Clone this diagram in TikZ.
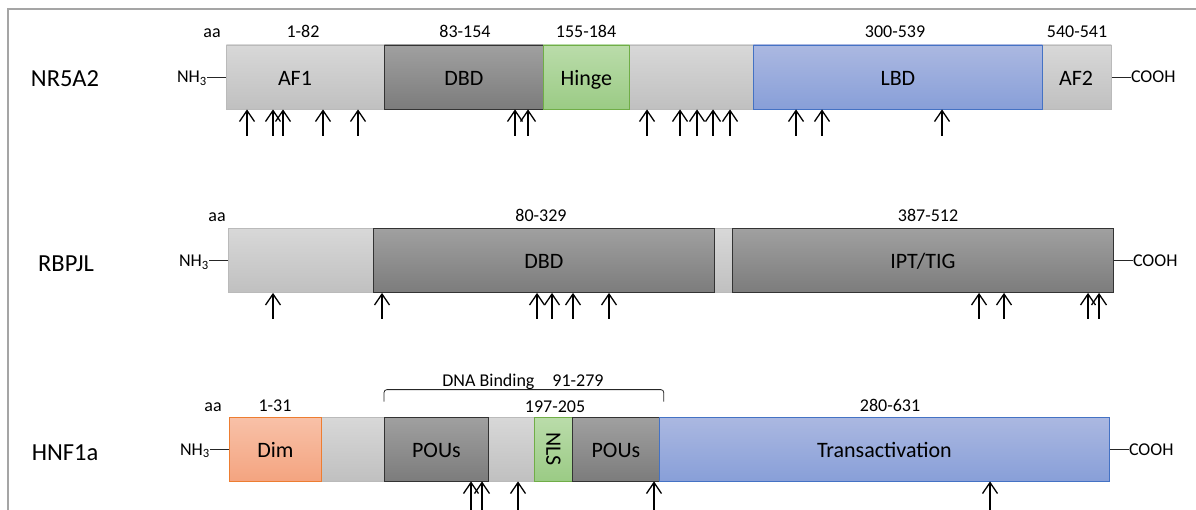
\documentclass[tikz,border=0pt]{standalone}
\usepackage{fontspec}
\setmainfont{Carlito}
\usepackage{graphicx}
\usetikzlibrary{positioning,arrows.meta}
\definecolor{lgray}{RGB}{216,216,216}
\definecolor{lgraybot}{RGB}{192,192,192}
\definecolor{dgray}{RGB}{160,160,160}
\definecolor{dgraybot}{RGB}{124,124,124}
\definecolor{hinge}{RGB}{186,220,170}
\definecolor{hingebot}{RGB}{155,203,133}
\definecolor{lbd}{RGB}{171,184,225}
\definecolor{lbdbot}{RGB}{136,159,216}
\definecolor{dim}{RGB}{248,193,168}
\definecolor{dimbot}{RGB}{244,164,128}
\definecolor{lblue}{RGB}{68,114,196}
\definecolor{lgreen}{RGB}{112,173,71}
\definecolor{lorange}{RGB}{237,125,49}
\definecolor{framegray}{RGB}{165,165,165}

\begin{document}
\begin{tikzpicture}[x=1pt, y=-1pt,
        domtext/.style={inner sep=0pt, text height=17pt, text depth=0pt, font=\fontsize{22}{26}\selectfont},
        dom/.style={domtext, draw, anchor=west, minimum height=64pt, line width=0.8pt},
        bgbar/.style={dom, draw=black!27, top color=lgray, bottom color=lgraybot},
        darkdom/.style={dom, draw=black!80, top color=dgray, bottom color=dgraybot},
        greendom/.style={dom, draw=lgreen, top color=hinge, bottom color=hingebot},
        bluedom/.style={dom, draw=lblue, top color=lbd, bottom color=lbdbot},
        orangedom/.style={dom, draw=lorange, top color=dim, bottom color=dimbot},
        gene/.style={anchor=base, font=\fontsize{24.5}{28}\selectfont},
        rangelab/.style={anchor=base, inner sep=0pt, font=\fontsize{18}{20}\selectfont},
        term/.style={inner sep=0pt, text height=12pt, text depth=0pt, font=\fontsize{18}{20}\selectfont},
        link/.style={draw=black!85, line width=0.8pt},
        site/.style={-{Straight Barb[length=11pt,width=15pt]}, line width=1.3pt}
    ]

        \useasboundingbox (0,0) rectangle (1196,510);
        \draw[framegray, line width=1.2pt] (8,510) -- (8,9) -- (1196,9);

        % NR5A2
        \node[gene] (nr5a2) at (65,87) {NR5A2};
        \node[bgbar, minimum width=885pt] (bar1) at (226,77) {};
        \node[darkdom, minimum width=159pt] (dbd1) at (384,77) {DBD};
        \node[greendom, minimum width=86pt] (hinge) at (543,77) {Hinge};
        \node[bluedom, minimum width=289pt] (lbd) at (753,77) {LBD};
        \node[domtext] (af1) at (295,77) {AF1};
        \node[domtext] (af2) at (1076,77) {AF2};
        \node[term, left=19pt of bar1] (nh1) {NH\textsubscript{3}};
        \node[term, right=19pt of bar1] (cooh1) {COOH};
        \path[link] (nh1) -- (bar1);
        \path[link] (bar1) -- (cooh1);

        \node[rangelab] (aa1) at (212,38) {aa};
        \node[rangelab] (r1a) at (303,38) {1-82};
        \node[rangelab] (r1b) at (465,38) {83-154};
        \node[rangelab] (r1c) at (586,38) {155-184};
        \node[rangelab] (r1d) at (895,38) {300-539};
        \node[rangelab] (r1e) at (1077,38) {540-541};

        \foreach \x in {247,273,283,323,358,515,528,647,680,697,713,730,796,822,942}
            \draw[site] (\x,136) -- (\x,0 |- bar1.south);

        % RBPJL
        \node[gene] (rbpjl) at (66,272) {RBPJL};
        \node[bgbar, minimum width=885pt] (bar2) at (228,260.5) {};
        \node[darkdom, minimum width=341pt] (dbd2) at (373,260.5) {DBD};
        \node[darkdom, minimum width=381pt] (ipt) at (732,260.5) {IPT/TIG};
        \node[term, left=19pt of bar2] (nh2) {NH\textsubscript{3}};
        \node[term, right=19pt of bar2] (cooh2) {COOH};
        \path[link] (nh2) -- (bar2);
        \path[link] (bar2) -- (cooh2);

        \node[rangelab] (aa2) at (217,222) {aa};
        \node[rangelab] (r2a) at (541,222) {80-329};
        \node[rangelab] (r2b) at (928,222) {387-512};

        \foreach \x in {273,382,537,552,573,609,979,1004,1088,1099}
            \draw[site] (\x,319) -- (\x,0 |- bar2.south);

        % HNF1a
        \node[gene] (hnf1a) at (65,460) {HNF1a};
        \node[bgbar, minimum width=880pt] (bar3) at (229,449) {};
        \node[orangedom, minimum width=92pt] (dim) at (229,449) {Dim};
        \node[darkdom, minimum width=104pt] (pou1) at (384,449) {POUs};
        \node[greendom, minimum width=38pt, text height=, text depth=] (nls) at (534,449) {\rotatebox{-90}{NLS}};
        \node[darkdom, minimum width=87pt] (pou2) at (572,449) {POUs};
        \node[bluedom, minimum width=450pt] (trans) at (659,449) {Transactivation};
        \node[term, left=19pt of bar3] (nh3) {NH\textsubscript{3}};
        \node[term, right=19pt of bar3] (cooh3) {COOH};
        \path[link] (nh3) -- (bar3);
        \path[link] (bar3) -- (cooh3);

        \node[rangelab] (aa3) at (213,411) {aa};
        \node[rangelab] (r3a) at (275,411) {1-31};
        \node[rangelab] (r3b) at (555,412) {197-205};
        \node[rangelab] (r3c) at (890,411) {280-631};
        \node[rangelab] (dnab) at (523,386) {DNA Binding\quad 91-279};
        \path[link, rounded corners=3pt] ([yshift=15pt]pou1.north west)
            |- ([shift={(4pt,27pt)}]pou2.north east) -- ([shift={(4pt,15pt)}]pou2.north east);

        \foreach \x in {471,482,518,654,990}
            \draw[site] (\x,512) -- (\x,0 |- bar3.south);

    \end{tikzpicture}
\end{document}
